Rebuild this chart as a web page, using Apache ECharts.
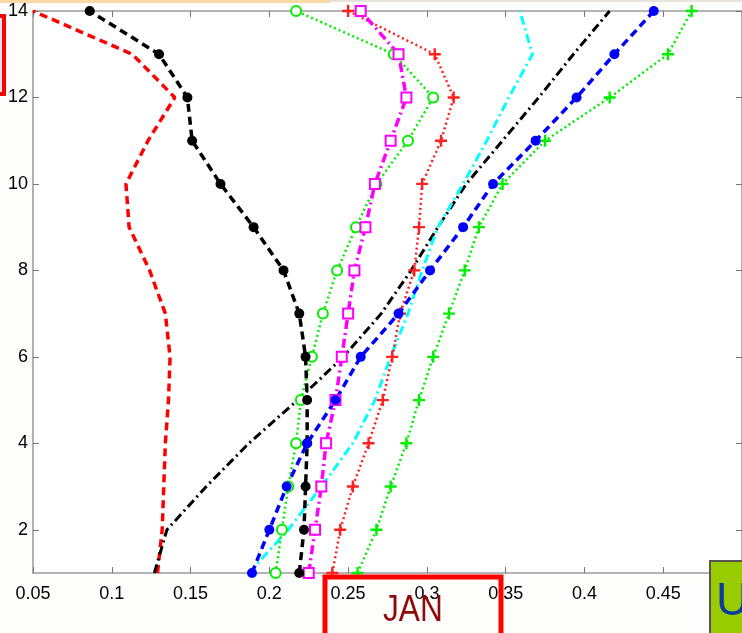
<!DOCTYPE html>
<html>
<head>
<meta charset="utf-8">
<script src="https://cdn.jsdelivr.net/npm/echarts@6/dist/echarts.min.js"></script>
<style>
  html, body { margin: 0; padding: 0; background: #ffffff; }
  #chart { width: 742px; height: 633px; }
</style>
</head>
<body>
<div id="chart"></div>
<script>
// Vertical levels (y axis) shared by every profile
const levels = [1, 2, 3, 4, 5, 6, 7, 8, 9, 10, 11, 12, 13, 14];
const yTicks = [2, 4, 6, 8, 10, 12, 14];

// Profile values, one per level (bottom to top)
const blackDots   = [0.219, 0.222, 0.223, 0.224, 0.224, 0.223, 0.219, 0.209, 0.190, 0.169, 0.151, 0.148, 0.130, 0.086];
const redDash     = [0.129, 0.132, 0.133, 0.134, 0.136, 0.137, 0.134, 0.124, 0.111, 0.109, 0.123, 0.140, 0.113, 0.050];
const blackDashDot= [0.127, 0.135, 0.160, 0.187, 0.218, 0.247, 0.271, 0.290, 0.307, 0.325, 0.348, 0.371, 0.393, 0.416];
const cyanDashDot = [0.187, 0.212, 0.233, 0.253, 0.267, 0.277, 0.288, 0.297, 0.307, 0.323, 0.338, 0.352, 0.367, 0.359];
const blueDots    = [0.189, 0.200, 0.211, 0.224, 0.242, 0.258, 0.282, 0.302, 0.323, 0.342, 0.369, 0.395, 0.419, 0.444];
const magentaSq   = [0.225, 0.229, 0.233, 0.236, 0.242, 0.246, 0.250, 0.254, 0.261, 0.267, 0.277, 0.287, 0.282, 0.258];
const greenCircle = [0.204, 0.208, 0.212, 0.217, 0.220, 0.227, 0.234, 0.243, 0.255, 0.268, 0.288, 0.304, 0.279, 0.217];
const redPlus     = [0.240, 0.245, 0.253, 0.263, 0.272, 0.278, 0.283, 0.292, 0.295, 0.297, 0.309, 0.317, 0.305, 0.250];
const greenPlus   = [0.256, 0.268, 0.277, 0.287, 0.295, 0.304, 0.314, 0.324, 0.333, 0.348, 0.375, 0.416, 0.453, 0.468];

const pair = xs => xs.map((x, i) => [x, levels[i]]);
const plusPath = 'path://M4,0H6V4H10V6H6V10H4V6H0V4H4Z';

function profile(values, color, width, dash, symbol, symbolSize, extra) {
  const s = {
    type: 'line',
    data: pair(values),
    showSymbol: symbol !== 'none',
    symbol: symbol,
    symbolSize: symbolSize,
    animation: false,
    lineStyle: { color: color, width: width, type: dash },
    itemStyle: { color: color },
    emphasis: { disabled: true }
  };
  return Object.assign(s, extra || {});
}

const axisGray = '#9a9a9a';
const labelFont = { fontFamily: 'Liberation Sans, Arial, sans-serif', fontSize: 18, color: '#000' };

const chart = echarts.init(document.getElementById('chart'), null, { renderer: 'canvas' });
chart.setOption({
  backgroundColor: '#fdfdfc',
  animation: false,
  grid: { left: 33, top: 11, width: 713, height: 562, backgroundColor: '#ffffff', show: true, borderWidth: 0 },
  xAxis: [
    {
      type: 'value', min: 0.05, max: 0.5, interval: 0.05, position: 'bottom',
      axisLine: { lineStyle: { color: axisGray, width: 1.5 } },
      axisTick: { inside: true, length: 6, lineStyle: { color: '#777' } },
      splitLine: { show: false },
      axisLabel: Object.assign({ margin: 12, showMaxLabel: false,
        formatter: v => String(+v.toFixed(2)) }, labelFont)
    },
    {
      type: 'value', min: 0.05, max: 0.5, interval: 0.05, position: 'top',
      axisLine: { lineStyle: { color: axisGray, width: 1.5 } },
      axisTick: { inside: true, length: 6, lineStyle: { color: '#777' } },
      splitLine: { show: false }, axisLabel: { show: false }
    }
  ],
  yAxis: [
    {
      type: 'value', min: 1, max: 14, position: 'left',
      axisLine: { show: true, lineStyle: { color: axisGray, width: 1.5 } },
      axisTick: { show: true, inside: true, length: 6, customValues: yTicks, lineStyle: { color: '#777' } },
      splitLine: { show: false },
      axisLabel: Object.assign({ margin: 5, customValues: yTicks }, labelFont)
    },
    {
      type: 'value', min: 1, max: 14, position: 'right',
      axisLine: { show: true, lineStyle: { color: axisGray, width: 1.5 } },
      axisTick: { show: true, inside: true, length: 6, customValues: yTicks, lineStyle: { color: '#777' } },
      splitLine: { show: false }, axisLabel: { show: false }
    }
  ],
  series: [
    profile(redDash, '#ff0000', 3.5, [8, 5], 'none', 0),
    profile(blackDashDot, '#000000', 3, [9, 4, 2, 4], 'none', 0),
    profile(cyanDashDot, '#00ffff', 3, [9, 4, 2, 4], 'none', 0),
    profile(redPlus, '#ff2020', 2.5, [2, 3], plusPath, 12),
    profile(greenCircle, '#00ee00', 2.5, [2, 3], 'emptyCircle', 10,
      { itemStyle: { color: '#00ee00', borderColor: '#00ee00', borderWidth: 2.5 } }),
    profile(magentaSq, '#ff00ff', 3.5, [9, 4, 2, 4], 'emptyRect', 10,
      { itemStyle: { color: '#ff00ff', borderColor: '#ff00ff', borderWidth: 2.5 } }),
    profile(greenPlus, '#00ee00', 2.5, [2, 3], plusPath, 12),
    profile(blackDots, '#000000', 3.5, [8, 5], 'circle', 10),
    profile(blueDots, '#0000ff', 3.5, [8, 5], 'circle', 10)
  ],
  graphic: [
    { type: 'rect', shape: { x: 0, y: 0, width: 330, height: 3 }, style: { fill: '#f9d9a6' }, z: 100 },
    { type: 'rect', shape: { x: 330, y: 0, width: 412, height: 2 }, style: { fill: '#e6e2dc' }, z: 100 },
    { type: 'rect', shape: { x: -10, y: 16, width: 14, height: 78 },
      style: { fill: '#dde6f2', stroke: '#ff0000', lineWidth: 4 }, z: 100 },
    { type: 'rect', shape: { x: 325, y: 577, width: 176, height: 70 },
      style: { fill: 'none', stroke: '#ff0000', lineWidth: 5 }, z: 100 },
    { type: 'text', x: 383, y: 593, scaleX: 0.88,
      style: { text: 'JAN', font: '36px "Liberation Sans", Arial, sans-serif', fill: '#8f0b0b' }, z: 101 },
    { type: 'rect', shape: { x: 710, y: 561, width: 40, height: 80 },
      style: { fill: '#99cc00', stroke: '#555555', lineWidth: 2 }, z: 100 },
    { type: 'text', left: 716, top: 579,
      style: { text: 'U', font: '46px "Liberation Sans", Arial, sans-serif', fill: '#0b3d9c' }, z: 101 }
  ]
});
</script>
</body>
</html>
